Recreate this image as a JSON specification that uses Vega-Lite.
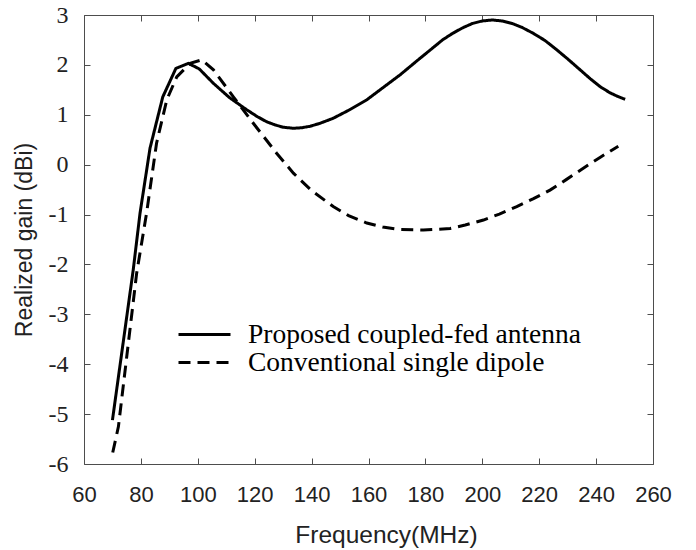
{
  "$schema": "https://vega.github.io/schema/vega-lite/v6.json",
  "width": 569,
  "height": 449,
  "autosize": {"type": "none"},
  "padding": {"left": 84, "top": 15, "right": 43, "bottom": 86},
  "background": "white",
  "config": {
    "view": {"stroke": "#4d4d4d", "strokeWidth": 1},
    "axis": {"domain": false, "grid": false, "tickColor": "#4d4d4d", "tickWidth": 1}
  },
  "data": {"values": [
    {"f": 70.0, "g": -5.12, "s": "Proposed coupled-fed antenna"},
    {"f": 77.3, "g": -2.11, "s": "Proposed coupled-fed antenna"},
    {"f": 79.7, "g": -0.97, "s": "Proposed coupled-fed antenna"},
    {"f": 83.2, "g": 0.33, "s": "Proposed coupled-fed antenna"},
    {"f": 87.7, "g": 1.36, "s": "Proposed coupled-fed antenna"},
    {"f": 92.3, "g": 1.93, "s": "Proposed coupled-fed antenna"},
    {"f": 96.7, "g": 2.03, "s": "Proposed coupled-fed antenna"},
    {"f": 100.5, "g": 1.92, "s": "Proposed coupled-fed antenna"},
    {"f": 105.5, "g": 1.63, "s": "Proposed coupled-fed antenna"},
    {"f": 111.0, "g": 1.35, "s": "Proposed coupled-fed antenna"},
    {"f": 117.2, "g": 1.10, "s": "Proposed coupled-fed antenna"},
    {"f": 121.0, "g": 0.96, "s": "Proposed coupled-fed antenna"},
    {"f": 124.2, "g": 0.86, "s": "Proposed coupled-fed antenna"},
    {"f": 127.0, "g": 0.80, "s": "Proposed coupled-fed antenna"},
    {"f": 130.0, "g": 0.75, "s": "Proposed coupled-fed antenna"},
    {"f": 133.6, "g": 0.73, "s": "Proposed coupled-fed antenna"},
    {"f": 136.5, "g": 0.74, "s": "Proposed coupled-fed antenna"},
    {"f": 139.5, "g": 0.77, "s": "Proposed coupled-fed antenna"},
    {"f": 143.0, "g": 0.83, "s": "Proposed coupled-fed antenna"},
    {"f": 147.6, "g": 0.93, "s": "Proposed coupled-fed antenna"},
    {"f": 153.0, "g": 1.09, "s": "Proposed coupled-fed antenna"},
    {"f": 159.4, "g": 1.30, "s": "Proposed coupled-fed antenna"},
    {"f": 165.0, "g": 1.54, "s": "Proposed coupled-fed antenna"},
    {"f": 171.1, "g": 1.80, "s": "Proposed coupled-fed antenna"},
    {"f": 177.0, "g": 2.08, "s": "Proposed coupled-fed antenna"},
    {"f": 182.8, "g": 2.35, "s": "Proposed coupled-fed antenna"},
    {"f": 186.0, "g": 2.50, "s": "Proposed coupled-fed antenna"},
    {"f": 189.5, "g": 2.63, "s": "Proposed coupled-fed antenna"},
    {"f": 193.0, "g": 2.74, "s": "Proposed coupled-fed antenna"},
    {"f": 196.5, "g": 2.83, "s": "Proposed coupled-fed antenna"},
    {"f": 200.0, "g": 2.88, "s": "Proposed coupled-fed antenna"},
    {"f": 203.5, "g": 2.90, "s": "Proposed coupled-fed antenna"},
    {"f": 207.0, "g": 2.88, "s": "Proposed coupled-fed antenna"},
    {"f": 210.5, "g": 2.83, "s": "Proposed coupled-fed antenna"},
    {"f": 214.0, "g": 2.75, "s": "Proposed coupled-fed antenna"},
    {"f": 218.0, "g": 2.63, "s": "Proposed coupled-fed antenna"},
    {"f": 222.0, "g": 2.49, "s": "Proposed coupled-fed antenna"},
    {"f": 226.0, "g": 2.31, "s": "Proposed coupled-fed antenna"},
    {"f": 230.0, "g": 2.12, "s": "Proposed coupled-fed antenna"},
    {"f": 234.0, "g": 1.92, "s": "Proposed coupled-fed antenna"},
    {"f": 238.0, "g": 1.72, "s": "Proposed coupled-fed antenna"},
    {"f": 241.5, "g": 1.56, "s": "Proposed coupled-fed antenna"},
    {"f": 244.9, "g": 1.44, "s": "Proposed coupled-fed antenna"},
    {"f": 247.5, "g": 1.37, "s": "Proposed coupled-fed antenna"},
    {"f": 250.2, "g": 1.31, "s": "Proposed coupled-fed antenna"},
    {"f": 70.1, "g": -5.77, "s": "Conventional single dipole"},
    {"f": 72.1, "g": -5.25, "s": "Conventional single dipole"},
    {"f": 78.5, "g": -2.18, "s": "Conventional single dipole"},
    {"f": 82.0, "g": -0.97, "s": "Conventional single dipole"},
    {"f": 85.5, "g": 0.43, "s": "Conventional single dipole"},
    {"f": 89.1, "g": 1.30, "s": "Conventional single dipole"},
    {"f": 92.6, "g": 1.76, "s": "Conventional single dipole"},
    {"f": 97.3, "g": 2.03, "s": "Conventional single dipole"},
    {"f": 101.4, "g": 2.10, "s": "Conventional single dipole"},
    {"f": 105.5, "g": 1.90, "s": "Conventional single dipole"},
    {"f": 112.5, "g": 1.36, "s": "Conventional single dipole"},
    {"f": 119.5, "g": 0.83, "s": "Conventional single dipole"},
    {"f": 127.7, "g": 0.23, "s": "Conventional single dipole"},
    {"f": 133.6, "g": -0.17, "s": "Conventional single dipole"},
    {"f": 140.0, "g": -0.52, "s": "Conventional single dipole"},
    {"f": 147.6, "g": -0.84, "s": "Conventional single dipole"},
    {"f": 153.0, "g": -1.02, "s": "Conventional single dipole"},
    {"f": 159.4, "g": -1.17, "s": "Conventional single dipole"},
    {"f": 165.0, "g": -1.25, "s": "Conventional single dipole"},
    {"f": 171.1, "g": -1.30, "s": "Conventional single dipole"},
    {"f": 179.3, "g": -1.31, "s": "Conventional single dipole"},
    {"f": 188.7, "g": -1.28, "s": "Conventional single dipole"},
    {"f": 194.0, "g": -1.21, "s": "Conventional single dipole"},
    {"f": 200.4, "g": -1.11, "s": "Conventional single dipole"},
    {"f": 206.0, "g": -0.99, "s": "Conventional single dipole"},
    {"f": 212.1, "g": -0.84, "s": "Conventional single dipole"},
    {"f": 218.0, "g": -0.68, "s": "Conventional single dipole"},
    {"f": 223.8, "g": -0.51, "s": "Conventional single dipole"},
    {"f": 229.5, "g": -0.30, "s": "Conventional single dipole"},
    {"f": 235.5, "g": -0.07, "s": "Conventional single dipole"},
    {"f": 241.5, "g": 0.15, "s": "Conventional single dipole"},
    {"f": 247.8, "g": 0.37, "s": "Conventional single dipole"}
  ]},
  "resolve": {"axis": {"x": "independent", "y": "independent"}},
  "layer": [
    {
      "mark": {"type": "line", "color": "black", "strokeWidth": 3},
      "encoding": {
        "x": {"field": "f", "type": "quantitative",
          "scale": {"domain": [60, 260], "nice": false, "zero": false},
          "axis": {"orient": "bottom", "values": [60,80,100,120,140,160,180,200,220,240,260],
            "tickSize": -6, "labelPadding": 26, "labelFont": "Liberation Sans", "labelFontSize": 22,
            "labelColor": "#222", "labelFlush": false,
            "title": "Frequency(MHz)", "titleFont": "Liberation Sans", "titleFontSize": 24.5,
            "titleFontWeight": "normal", "titleColor": "#222", "titlePadding": 18,
            "titleX": 302, "titleAlign": "center"}},
        "y": {"field": "g", "type": "quantitative",
          "scale": {"domain": [-6, 3], "nice": false, "zero": false},
          "axis": {"orient": "left", "values": [-6,-5,-4,-3,-2,-1,0,1,2,3],
            "labelExpr": "'' + datum.value",
            "tickSize": -6, "labelPadding": 22, "labelFont": "Liberation Serif", "labelFontSize": 24,
            "labelColor": "#222", "labelFlush": false,
            "title": "Realized gain (dBi)", "titleFont": "Liberation Sans", "titleFontSize": 23,
            "titleFontWeight": "normal", "titleColor": "#222", "titlePadding": 12}},
        "strokeDash": {"field": "s", "type": "nominal",
          "scale": {"domain": ["Proposed coupled-fed antenna", "Conventional single dipole"],
            "range": [[1, 0], [12, 7]]},
          "legend": {"title": null, "orient": "none", "legendX": 106, "legendY": 305,
            "symbolType": "M-2,0H2", "symbolSize": 676, "symbolStrokeWidth": 3,
            "symbolStrokeColor": "black", "labelFont": "Liberation Serif", "labelFontSize": 27.5,
            "labelColor": "black", "labelOffset": 29, "rowPadding": 0, "padding": 0, "labelLimit": 500}}
      }
    },
    {
      "mark": {"type": "line", "strokeOpacity": 0},
      "encoding": {
        "x": {"field": "f", "type": "quantitative",
          "axis": {"orient": "top", "values": [60,80,100,120,140,160,180,200,220,240,260],
            "tickSize": -6, "labels": false, "title": null}},
        "y": {"field": "g", "type": "quantitative",
          "axis": {"orient": "right", "values": [-6,-5,-4,-3,-2,-1,0,1,2,3],
            "tickSize": -6, "labels": false, "title": null}},
        "detail": {"field": "s"}
      }
    }
  ]
}
